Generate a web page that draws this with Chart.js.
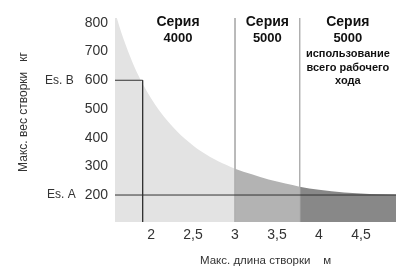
<!DOCTYPE html>
<html lang="ru">
<head>
  <meta charset="UTF-8" />
  <title>Макс. вес створки</title>
  <script src="https://cdn.jsdelivr.net/npm/chart.js"></script>
  <style>
    body { margin: 0; background: #fff; }
    #wrap { width: 396px; height: 269px; position: relative; }
  </style>
</head>
<body>
  <div id="wrap"><canvas id="gateChart"></canvas></div>

  <script>
    // leaf length (m) vs max leaf weight (kg)
    const lengths    = [1.57, 1.6, 1.7, 1.8, 1.9, 2.0, 2.1, 2.2, 2.3, 2.4, 2.5, 2.6, 2.8, 3.0, 3.2, 3.4, 3.6, 3.77, 4.0, 4.3, 4.6, 4.92];
    const maxWeights = [845, 810, 722, 648, 588, 537, 494, 457, 425, 397, 373, 352, 318, 292, 272, 254, 240, 229, 218, 209, 204, 202];

    const zoneEdges = [1.571, 3, 3.77, 4.917];
    const zoneColors = ['#e3e3e3', '#b3b3b3', '#888888'];
    const zoneTitles = [
      ['Серия', '4000'],
      ['Серия', '5000'],
      ['Серия', '5000', 'использование', 'всего рабочего', 'хода']
    ];

    const xTicks = [2, 2.5, 3, 3.5, 4, 4.5];
    const yTicks = [200, 300, 400, 500, 600, 700, 800];
    const yMin = 106, yMax = 817;

    const esA = 200;               // Es. A weight
    const esB = 600;               // Es. B weight
    const esBLength = 1.9;         // length for Es. B

    const font = '"Liberation Sans", Arial, Helvetica, sans-serif';
    const points = lengths.map((x, i) => ({ x: x, y: maxWeights[i] }));

    const datasets = [];

    // reference lines (first = drawn on top)
    datasets.push({
      data: [{ x: zoneEdges[0], y: esB }, { x: esBLength, y: esB }, { x: esBLength, y: yMin }],
      borderColor: '#333', borderWidth: 1, pointRadius: 0, fill: false, tension: 0
    });
    datasets.push({
      data: [{ x: zoneEdges[0], y: esA }, { x: zoneEdges[3], y: esA }],
      borderColor: '#333', borderWidth: 1, pointRadius: 0, fill: false, tension: 0
    });
    // zone separators
    [zoneEdges[1], zoneEdges[2]].forEach(e => {
      datasets.push({
        data: [{ x: e, y: yMax }, { x: e, y: yMin }],
        borderColor: '#b0b0b0', borderWidth: 1, pointRadius: 0, fill: false, tension: 0
      });
    });
    // filled zones under the curve
    for (let z = 0; z < 3; z++) {
      datasets.push({
        data: points.filter(p => p.x >= zoneEdges[z] - 0.01 && p.x <= zoneEdges[z + 1] + 0.01),
        borderWidth: 0,
        borderColor: zoneColors[z],
        backgroundColor: zoneColors[z],
        pointRadius: 0,
        fill: 'start',
        cubicInterpolationMode: 'monotone'
      });
    }

    const labelsPlugin = {
      id: 'labels',
      afterDraw(chart) {
        const ctx = chart.ctx;
        const xs = chart.scales.x, ys = chart.scales.y;
        ctx.save();
        ctx.fillStyle = '#111';
        ctx.textAlign = 'center';
        ctx.textBaseline = 'middle';
        for (let z = 0; z < 3; z++) {
          const cx = (xs.getPixelForValue(zoneEdges[z]) + xs.getPixelForValue(zoneEdges[z + 1])) / 2 + (z === 0 ? 3 : 0);
          const t = zoneTitles[z];
          ctx.font = 'bold 14px ' + font;
          ctx.fillText(t[0], cx, 22);
          ctx.font = 'bold 13px ' + font;
          ctx.fillText(t[1], cx, 38);
          ctx.font = 'bold 11px ' + font;
          for (let k = 2; k < t.length; k++) {
            ctx.fillText(t[k], cx, 54 + (k - 2) * 13.5);
          }
        }
        ctx.fillStyle = '#333';
        ctx.font = '12px ' + font;
        ctx.textAlign = 'left';
        ctx.fillText('Es. B', 45, ys.getPixelForValue(esB));
        ctx.fillText('Es. A', 47, ys.getPixelForValue(esA));

        ctx.font = '11.5px ' + font;
        ctx.fillText('Макс. длина створки    м', 200, 261);

        ctx.translate(24, 112);
        ctx.rotate(-Math.PI / 2);
        ctx.textAlign = 'center';
        ctx.font = '12px ' + font;
        ctx.fillText('Макс. вес створки   кг', 0, 0);
        ctx.restore();
      }
    };

    new Chart(document.getElementById('gateChart'), {
      type: 'line',
      data: { datasets: datasets },
      options: {
        responsive: true,
        maintainAspectRatio: false,
        animation: false,
        layout: { padding: { top: 18, left: 0, right: 0, bottom: 0 } },
        plugins: { legend: { display: false }, tooltip: { enabled: false } },
        scales: {
          x: {
            type: 'linear',
            min: zoneEdges[0],
            max: zoneEdges[3],
            grid: { display: false, drawTicks: false },
            border: { display: false },
            afterBuildTicks: s => { s.ticks = xTicks.map(v => ({ value: v })); },
            afterFit: s => { s.height = 47; },
            ticks: {
              padding: 5,
              color: '#333',
              font: { family: font, size: 14 },
              callback: v => String(v).replace('.', ',')
            }
          },
          y: {
            type: 'linear',
            min: yMin,
            max: yMax,
            grid: { display: false, drawTicks: false },
            border: { display: false },
            afterBuildTicks: s => { s.ticks = yTicks.map(v => ({ value: v })); },
            afterFit: s => { s.width = 115; },
            ticks: {
              padding: 7,
              color: '#333',
              font: { family: font, size: 14 }
            }
          }
        }
      },
      plugins: [labelsPlugin]
    });
  </script>
</body>
</html>
